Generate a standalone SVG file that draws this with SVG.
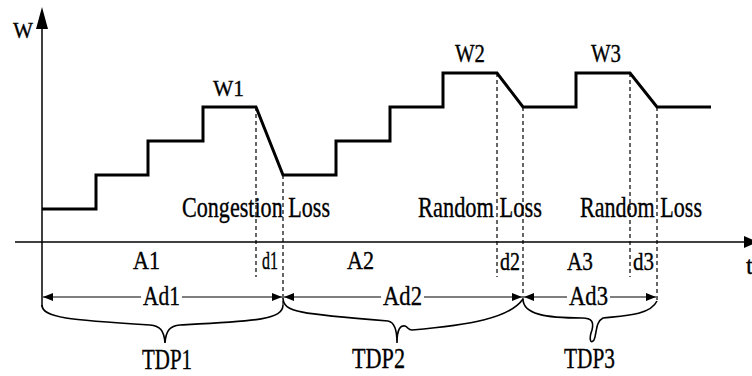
<svg xmlns="http://www.w3.org/2000/svg" width="752" height="376" viewBox="0 0 752 376">
<defs>
<style>
.axis{stroke:#000;stroke-width:1.5;fill:none}
.curve{stroke:#000;stroke-width:3;fill:none;stroke-linejoin:miter}
.dash{stroke:#000;stroke-width:1.2;stroke-dasharray:4 3;fill:none}
.dim{stroke:#000;stroke-width:1.2;fill:none}
.brace{stroke:#000;stroke-width:1.6;fill:none}
.lbl{font-family:'Liberation Serif','Times New Roman',serif;fill:#000;stroke:#000;stroke-width:0.35}
</style>
<marker id="ah" viewBox="0 0 10 8" refX="10" refY="4" markerWidth="10" markerHeight="8" markerUnits="userSpaceOnUse" orient="auto">
<path d="M0,0 L10,4 L0,8 Z" fill="#000"/>
</marker>
</defs>
<rect width="752" height="376" fill="#fff"/>

<g id="axes">
<line class="axis" x1="42" y1="307" x2="42" y2="28"/>
<polygon points="42,7 36,29 48,29" fill="#000"/>
<line class="axis" x1="15" y1="242" x2="746" y2="242"/>
<polygon points="758,242 744,236 744,248" fill="#000"/>
<text class="lbl" x="13" y="38" font-size="23" textLength="20" lengthAdjust="spacingAndGlyphs">W</text>
<text class="lbl" x="746" y="274" font-size="25">t</text>
</g>

<g id="window-curve">
<path class="curve" d="M42,209 H96 V175 H148 V141 H203 V107 H256 L283,175 H336 V141 H390 V107 H443 V73 H497 L523,107 H576 V73 H630 L657,107 H711"/>
<text class="lbl" x="213" y="96" font-size="23" textLength="31" lengthAdjust="spacingAndGlyphs">W1</text>
<text class="lbl" x="455" y="62" font-size="25" textLength="30" lengthAdjust="spacingAndGlyphs">W2</text>
<text class="lbl" x="591" y="62" font-size="25" textLength="30" lengthAdjust="spacingAndGlyphs">W3</text>
</g>

<g id="connectors">
<line class="dash" x1="256" y1="107" x2="256" y2="277"/>
<line class="dash" x1="283" y1="175" x2="283" y2="305"/>
<line class="dash" x1="497" y1="73" x2="497" y2="277"/>
<line class="dash" x1="523" y1="107" x2="523" y2="299"/>
<line class="dash" x1="630" y1="73" x2="630" y2="277"/>
<line class="dash" x1="657" y1="107" x2="657" y2="303"/>

<line class="dim" x1="141" y1="297" x2="43" y2="297" marker-end="url(#ah)"/>
<line class="dim" x1="182" y1="297" x2="282" y2="297" marker-end="url(#ah)"/>
<line class="dim" x1="381" y1="297" x2="284" y2="297" marker-end="url(#ah)"/>
<line class="dim" x1="424" y1="297" x2="522" y2="297" marker-end="url(#ah)"/>
<line class="dim" x1="567" y1="297" x2="524" y2="297" marker-end="url(#ah)"/>
<line class="dim" x1="610" y1="297" x2="656" y2="297" marker-end="url(#ah)"/>

<path class="brace" d="M42,305 C42,318 70,320 150,325 C160,326 164,330 165,343 C166,330 170,326 180,325 C255,321 283,320 283,305"/>
<path class="brace" d="M283,298 C283,312 300,314 388,321 C394,322 397,328 397,343 C397,328 401,325 405,326 C408,327 408,330 412,330 C470,325 510,318 523,299"/>
<path class="brace" d="M523,299 C523,314 545,318 582,318 C592,318 594,322 592,330 C589,338 590,345 594,340 C597,334 595,322 603,318 C620,316 650,316 657,301"/>
</g>

<g id="labels">
<text class="lbl" x="182" y="217" font-size="29" textLength="148" lengthAdjust="spacingAndGlyphs">Congestion Loss</text>
<text class="lbl" x="418" y="217" font-size="29" textLength="124" lengthAdjust="spacingAndGlyphs">Random Loss</text>
<text class="lbl" x="580" y="217" font-size="29" textLength="122" lengthAdjust="spacingAndGlyphs">Random Loss</text>
<text class="lbl" x="133" y="269" font-size="25" textLength="27" lengthAdjust="spacingAndGlyphs">A1</text>
<text class="lbl" x="262" y="269" font-size="25" textLength="16" lengthAdjust="spacingAndGlyphs">d1</text>
<text class="lbl" x="347" y="269" font-size="25" textLength="27" lengthAdjust="spacingAndGlyphs">A2</text>
<text class="lbl" x="500" y="270" font-size="25" textLength="20" lengthAdjust="spacingAndGlyphs">d2</text>
<text class="lbl" x="567" y="270" font-size="25" textLength="26" lengthAdjust="spacingAndGlyphs">A3</text>
<text class="lbl" x="633" y="270" font-size="25" textLength="21" lengthAdjust="spacingAndGlyphs">d3</text>
<text class="lbl" x="143" y="305" font-size="27" textLength="37" lengthAdjust="spacingAndGlyphs">Ad1</text>
<text class="lbl" x="383" y="305" font-size="27" textLength="39" lengthAdjust="spacingAndGlyphs">Ad2</text>
<text class="lbl" x="569" y="305" font-size="27" textLength="39" lengthAdjust="spacingAndGlyphs">Ad3</text>
<text class="lbl" x="142" y="369" font-size="30" textLength="50" lengthAdjust="spacingAndGlyphs">TDP1</text>
<text class="lbl" x="352" y="368" font-size="30" textLength="53" lengthAdjust="spacingAndGlyphs">TDP2</text>
<text class="lbl" x="564" y="368" font-size="30" textLength="51" lengthAdjust="spacingAndGlyphs">TDP3</text>
</g>
</svg>
